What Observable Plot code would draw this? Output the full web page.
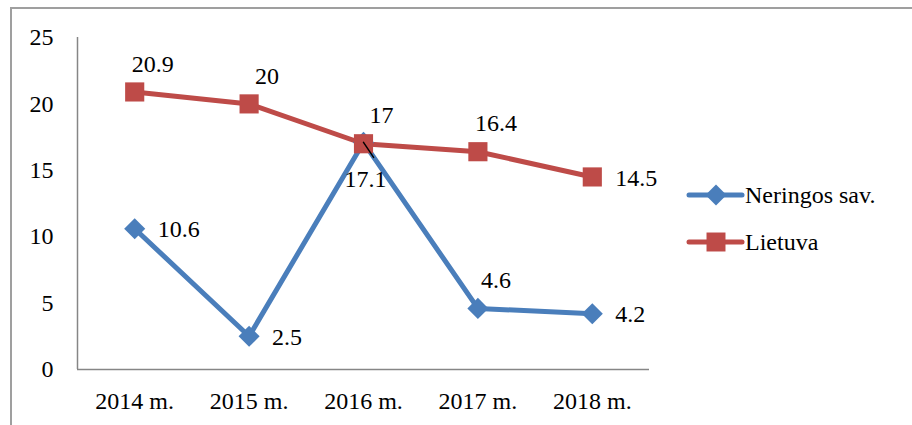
<!DOCTYPE html>
<html>
<head>
<meta charset="utf-8">
<script src="https://cdn.jsdelivr.net/npm/d3@7"></script>
<script src="https://cdn.jsdelivr.net/npm/@observablehq/plot@0.6"></script>
<style>
  html, body { margin: 0; padding: 0; background: #fff; }
  #wrap { position: relative; width: 912px; height: 425px; overflow: hidden; font-family: "Liberation Serif", Tinos, "Times New Roman", Times, "DejaVu Serif", serif; }
  #border { position: absolute; left: 10px; top: 7px; width: 960px; height: 480px; border-left: 2px solid #9f9f9f; border-top: 2px solid #9f9f9f; box-sizing: border-box; }
  #chart { position: absolute; left: 0; top: 0; }
  #legend { position: absolute; left: 686px; top: 176px; }
</style>
</head>
<body>
<div id="wrap">
  <div id="border"></div>
  <div id="chart"></div>
  <div id="legend"></div>
</div>
<script>
const years = ["2014 m.", "2015 m.", "2016 m.", "2017 m.", "2018 m."];
const neringa = [10.6, 2.5, 17.1, 4.6, 4.2];
const lietuva = [20.9, 20, 17, 16.4, 14.5];
const seriesNames = ["Neringos sav.", "Lietuva"];
const yTicks = [0, 5, 10, 15, 20, 25];

const blue = "#4a7ebb";
const red = "#be4b48";
const axisColor = "#868686";
const FONT = "24px";
const FAMILY = '"Liberation Serif", Tinos, "Times New Roman", Times, "DejaVu Serif", serif';

const n = years.length;
// label placement: where another series point collides -> below; where next segment is flat -> above; else right
const blueData = years.map((y, i) => {
  const clash = Math.abs(neringa[i] - lietuva[i]) < 1;
  const flatNext = i < n - 1 && Math.abs(neringa[i + 1] - neringa[i]) < 1;
  return {i, year: y, value: neringa[i], place: clash ? "below" : flatNext ? "above" : "right"};
});
const redData = years.map((y, i) => ({i, year: y, value: lietuva[i], place: i === n - 1 ? "right" : "above"}));

const leader = {draw(context, l) { context.moveTo(0, 0); context.lineTo(0, -l); }};

const labelMarks = (data) => [
  Plot.text(data.filter(d => d.place === "above"), {x: "i", y: "value", text: d => String(d.value), dx: 18, dy: -28, textAnchor: "middle", fill: "#000", fontSize: FONT}),
  Plot.text(data.filter(d => d.place === "right"), {x: "i", y: "value", text: d => String(d.value), dx: 23, dy: 1, textAnchor: "start", fill: "#000", fontSize: FONT}),
  Plot.text(data.filter(d => d.place === "below"), {x: "i", y: "value", text: d => String(d.value), dx: 2, dy: 37, textAnchor: "middle", fill: "#000", fontSize: FONT})
];

const plot = Plot.plot({
  width: 912,
  height: 425,
  marginLeft: 77,
  marginRight: 263,
  marginTop: 37,
  marginBottom: 56,
  style: {fontFamily: FAMILY, fontSize: FONT, color: "#000", background: "transparent", overflow: "visible"},
  x: {domain: [-0.5, n - 0.5], ticks: years.map((d, i) => i), tickFormat: i => years[i], tickSize: 0, tickPadding: 22, label: null},
  y: {domain: [0, 25], ticks: yTicks, tickSize: 0, tickPadding: 24, label: null},
  marks: [
    Plot.ruleY([0], {stroke: axisColor, strokeWidth: 1.5}),
    Plot.ruleX([-0.5], {stroke: axisColor, strokeWidth: 1.5}),
    Plot.line(redData, {x: "i", y: "value", stroke: red, strokeWidth: 5}),
    Plot.line(blueData, {x: "i", y: "value", stroke: blue, strokeWidth: 5}),
    Plot.dot(blueData, {x: "i", y: "value", symbol: "diamond2", r: 9.5, fill: blue, stroke: null}),
    Plot.dot(redData, {x: "i", y: "value", symbol: "square", r: 10.8, fill: red, stroke: null}),
    Plot.vector(blueData.filter(d => d.place === "below"), {x: "i", y: "value", length: 18, rotate: 146, anchor: "start", shape: leader, stroke: "#000", strokeWidth: 1.5}),
    ...labelMarks(redData),
    ...labelMarks(blueData)
  ]
});
document.getElementById("chart").appendChild(plot);

// legend
const legendColors = [blue, red];
const legendSymbols = [d3.symbolDiamond2, d3.symbolSquare];
const legendSizes = [280, 360];
const lg = d3.select("#legend").append("svg").attr("width", 226).attr("height", 90)
  .style("font-family", FAMILY).style("font-size", FONT);
seriesNames.forEach((name, k) => {
  const g = lg.append("g").attr("transform", `translate(0, ${19 + k * 47})`);
  g.append("line").attr("x1", 3).attr("x2", 56).attr("y1", 0).attr("y2", 0)
    .attr("stroke", legendColors[k]).attr("stroke-width", 5).attr("stroke-linecap", "round");
  g.append("path").attr("transform", "translate(30,0)")
    .attr("d", d3.symbol(legendSymbols[k], legendSizes[k])()).attr("fill", legendColors[k]);
  g.append("text").attr("x", 59).attr("y", 0).attr("dy", "0.32em").attr("fill", "#000").text(name);
});
</script>
</body>
</html>
